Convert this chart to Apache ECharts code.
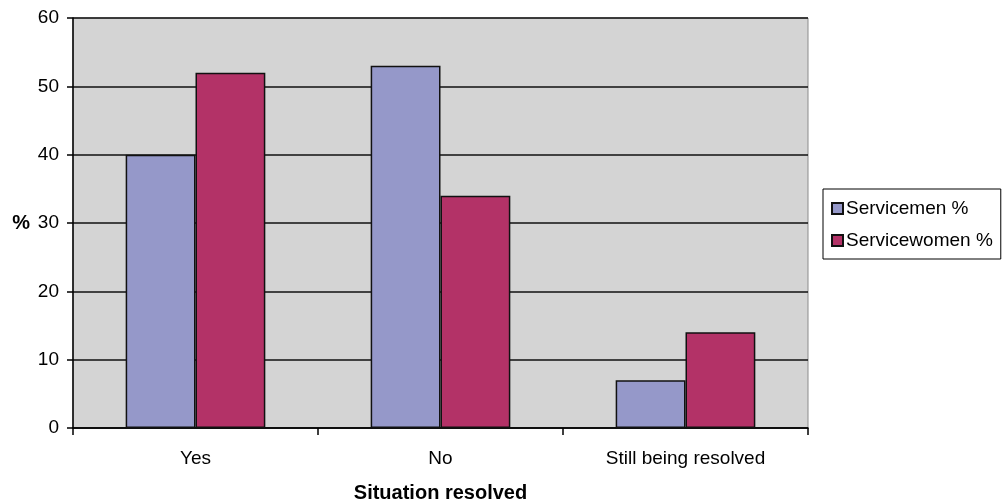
<!DOCTYPE html>
<html>
<head>
<meta charset="utf-8">
<script src="https://cdn.jsdelivr.net/npm/echarts@6/dist/echarts.min.js"></script>
<style>
  html, body { margin: 0; padding: 0; background: #fff; }
  #chart { width: 1002px; height: 502px; }
</style>
</head>
<body>
<div id="chart"></div>
<script>
// Situation resolved, by gender (percent)
const categories = ['Yes', 'No', 'Still being resolved'];
const servicemen = [40, 53, 7];
const servicewomen = [52, 34, 14];
const seriesNames = ['Servicemen %', 'Servicewomen %'];

const chart = echarts.init(document.getElementById('chart'));
const font = 'Liberation Sans, Arial, sans-serif';

chart.setOption({
  animation: false,
  textStyle: { fontFamily: font },
  grid: {
    left: 73, top: 18, right: 194, bottom: 74,
    outerBoundsMode: 'none',
    containLabel: false,
    show: true,
    backgroundColor: '#d4d4d4',
    borderColor: '#8c8c8c',
    borderWidth: 1
  },
  legend: {
    orient: 'vertical',
    left: 823, top: 189,
    padding: [10, 8, 9, 8],
    itemGap: 13,
    itemWidth: 11, itemHeight: 11,
    borderColor: '#000', borderWidth: 1,
    backgroundColor: '#fff',
    icon: 'rect',
    textStyle: { fontSize: 19, color: '#000', fontFamily: font, padding: [0, 0, 0, -2] },
    data: seriesNames
  },
  xAxis: {
    type: 'category',
    data: categories,
    name: 'Situation resolved',
    nameLocation: 'middle',
    nameGap: 55,
    nameTextStyle: { fontSize: 20, fontWeight: 'bold', color: '#000' },
    axisLine: { lineStyle: { color: '#000', width: 1.5 } },
    axisTick: { show: true, length: 7, lineStyle: { color: '#000', width: 1.5 } },
    axisLabel: { fontSize: 19, color: '#000', margin: 21 }
  },
  yAxis: {
    type: 'value',
    min: 0, max: 60, interval: 10,
    name: '%',
    nameLocation: 'middle',
    nameRotate: 0,
    nameGap: 43,
    nameTextStyle: { fontSize: 20, fontWeight: 'bold', color: '#000' },
    axisLine: { show: true, lineStyle: { color: '#000', width: 1.5 } },
    axisTick: { show: true, length: 6, lineStyle: { color: '#000', width: 1.5 } },
    axisLabel: { fontSize: 19, color: '#000', margin: 14 },
    splitLine: { show: true, lineStyle: { color: '#111', width: 1.5 } }
  },
  series: [
    {
      name: seriesNames[0],
      type: 'bar',
      data: servicemen,
      barGap: '0%',
      barCategoryGap: '43%',
      itemStyle: { color: '#9598c9', borderColor: '#111', borderWidth: 1.5 }
    },
    {
      name: seriesNames[1],
      type: 'bar',
      data: servicewomen,
      barGap: '0%',
      barCategoryGap: '43%',
      itemStyle: { color: '#b33267', borderColor: '#111', borderWidth: 1.5 }
    }
  ]
});
</script>
</body>
</html>
